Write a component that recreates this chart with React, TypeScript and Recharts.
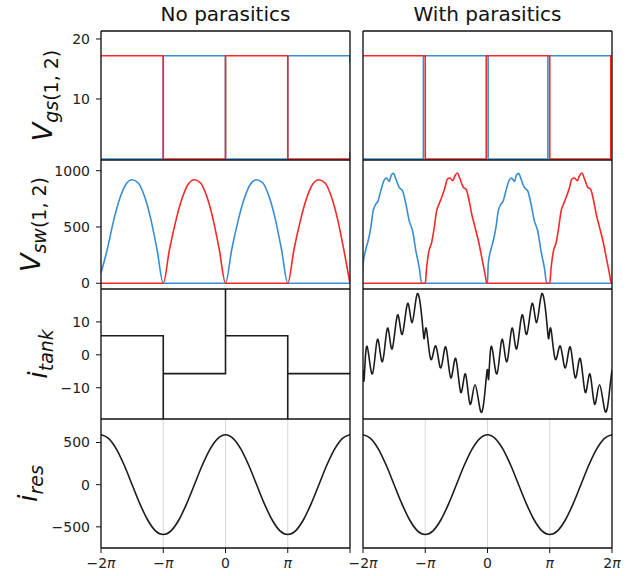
import React from "react";
import { LineChart, Line, XAxis, YAxis, CartesianGrid, ReferenceLine } from "recharts";

type Pt = [number, number];

// ---------- axes / text ----------
const PHASE_TICKS = [-2, -1, 0, 1, 2]; // in units of pi
const PHASE_LABELS = ["−2", "−", "0", "", "2"]; // prefix before the pi symbol
const PHASE_HAS_PI = [true, true, false, true, true];
const COLUMN_TITLES = ["No parasitics", "With parasitics"];

const VGS_TICKS = [10, 20];
const VSW_TICKS = [0, 500, 1000];
const ITANK_TICKS = [-10, 0, 10];
const IRES_TICKS = [-500, 0, 500];

const VGS_DOMAIN: [number, number] = [-0.17, 21.33];
const VSW_DOMAIN: [number, number] = [-51, 1095];
const ITANK_DOMAIN: [number, number] = [-19.5, 20];
const IRES_DOMAIN: [number, number] = [-751, 779];

// ---------- gate voltages ----------
const VGS_BLUE_IDEAL: Pt[] = [[-2, 0], [-1, 0], [-1, 17.2], [0, 17.2], [0, 0], [1, 0], [1, 17.2], [1.995, 17.2], [2, 16]];
const VGS_RED_IDEAL: Pt[] = [[-2, 17.2], [-1, 17.2], [-1, 0], [0, 0], [0, 17.2], [1, 17.2], [1, 0], [1.995, 0], [2, 1.2]];
const VGS_BLUE_PARA: Pt[] = [[-2, 0], [-1.03, 0], [-1.03, 17.2], [0.01, 17.2], [0.01, 0], [0.97, 0], [0.97, 17.2], [2, 17.2]];
const VGS_RED_PARA: Pt[] = [[-2, 17.2], [-1, 17.2], [-1, 0], [-0.02, 0], [-0.02, 17.2], [1, 17.2], [1, 0], [1.98, 0], [1.98, 17.2], [2, 17.2]];

// ---------- switch voltages (hump profiles: offset from hump start, value) ----------
const IDEAL_HUMP: Pt[] = [[0, 0], [0.1, 300], [0.2, 550], [0.3, 750], [0.4, 880], [0.5, 920], [0.6, 890], [0.7, 770], [0.8, 570], [0.9, 300], [1, 0]];
const BLUE_PARA_HUMP: Pt[] = [[0, 0], [0.011, 167], [0.054, 298], [0.092, 375], [0.135, 494], [0.173, 643], [0.216, 702], [0.253, 732], [0.296, 821], [0.35, 917], [0.388, 935], [0.43, 905], [0.468, 964], [0.5, 976], [0.538, 926], [0.592, 851], [0.646, 821], [0.7, 702], [0.753, 554], [0.807, 464], [0.86, 286], [0.914, 137], [0.952, 0]];
const RED_PARA_HUMP: Pt[] = [[0, 0], [0.022, 137], [0.059, 286], [0.102, 360], [0.14, 479], [0.183, 643], [0.22, 702], [0.263, 762], [0.317, 851], [0.355, 926], [0.398, 935], [0.441, 911], [0.478, 955], [0.516, 979], [0.559, 926], [0.613, 851], [0.656, 836], [0.694, 762], [0.747, 613], [0.801, 494], [0.855, 375], [0.909, 226], [0.962, 77], [0.989, 0]];

// ---------- tank current ----------
const ITANK_IDEAL: Pt[] = [[-2, 5.8], [-1, 5.8], [-1, -30], [-1, -5.7], [0, -5.7], [0, 30], [0, 5.8], [1, 5.8], [1, -30], [1, -5.7], [2, -5.7]];
const ITANK_PERIOD: Pt[] = [[0, -4.5], [0.02, -7.0], [0.065, 2.6], [0.151, -5.8], [0.232, 4.7], [0.312, -2.1], [0.393, 8.1], [0.468, 1.8], [0.554, 12.1], [0.63, 6.2], [0.716, 15.6], [0.79, 9.8], [0.871, 18.5], [0.95, 10.4], [0.985, 5.0], [1.02, 7.8], [1.09, -1.4], [1.17, 2.7], [1.25, -4.0], [1.33, 2.4], [1.41, -7.0], [1.49, -1.1], [1.57, -11.4], [1.645, -5.8], [1.72, -15.0], [1.8, -9.1], [1.89, -17.2], [1.96, -11.0]];
const ITANK_END: Pt = [2, -4.5];

// ---------- resonant current ----------
const IRES: Pt[] = [[-2, 592], [-1.875, 547], [-1.75, 419], [-1.625, 227], [-1.5, 0], [-1.375, -227], [-1.25, -419], [-1.125, -547], [-1, -590], [-0.875, -547], [-0.75, -419], [-0.625, -227], [-0.5, 0], [-0.375, 227], [-0.25, 419], [-0.125, 547], [0, 592], [0.125, 547], [0.25, 419], [0.375, 227], [0.5, 0], [0.625, -227], [0.75, -419], [0.875, -547], [1, -590], [1.125, -547], [1.25, -419], [1.375, -227], [1.5, 0], [1.625, 227], [1.75, 419], [1.875, 547], [2, 592]];

const place = (profile: Pt[], start: number): Pt[] => profile.map(([dx, v]) => [start + dx, v] as Pt);

const VSW_BLUE_IDEAL: Pt[] = [[-2, 90], ...place(IDEAL_HUMP, -2).slice(1), ...place(IDEAL_HUMP, 0), [2, 0]];
const VSW_RED_IDEAL: Pt[] = [[-2, 0], ...place(IDEAL_HUMP, -1), ...place(IDEAL_HUMP, 1)];
const VSW_BLUE_PARA: Pt[] = [...place(BLUE_PARA_HUMP, -2.01), ...place(BLUE_PARA_HUMP, 0), [2, 0]];
const VSW_RED_PARA: Pt[] = [[-2, 0], ...place(RED_PARA_HUMP, -1), ...place(RED_PARA_HUMP, 1), [2, 0]];
const ITANK_PARA: Pt[] = [...place(ITANK_PERIOD, -2), ...place(ITANK_PERIOD, 0), ITANK_END];

// ---------- styling ----------
const FONT = "DejaVu Sans";
const BLUE = "#3a8dd2";
const RED = "#f82828";
const BLACK = "#1c1c1c";
const FRAME = "#111";
const COL_X = [101, 363];
const ROW_Y = [31, 160, 289, 419];
const ROW_H = [129, 129, 130, 129];
const PLOT_W = 249;

type Curve = "linear" | "monotone" | "natural";
type Series = { points: Pt[]; color: string; curve: Curve };
type YLab = { main: string; sub: string; subUpright: string; x: number };

const Y_LABELS: YLab[] = [
  { main: "V", sub: "gs", subUpright: "(1, 2)", x: 52 },
  { main: "V", sub: "sw", subUpright: "(1, 2)", x: 40 },
  { main: "i", sub: "tank", subUpright: "", x: 47 },
  { main: "i", sub: "res", subUpright: "", x: 37 },
];

const ROWS: { domain: [number, number]; ticks: number[]; series: Series[][] }[] = [
  {
    domain: VGS_DOMAIN,
    ticks: VGS_TICKS,
    series: [
      [{ points: VGS_BLUE_IDEAL, color: BLUE, curve: "linear" }, { points: VGS_RED_IDEAL, color: RED, curve: "linear" }],
      [{ points: VGS_BLUE_PARA, color: BLUE, curve: "linear" }, { points: VGS_RED_PARA, color: RED, curve: "linear" }],
    ],
  },
  {
    domain: VSW_DOMAIN,
    ticks: VSW_TICKS,
    series: [
      [{ points: VSW_BLUE_IDEAL, color: BLUE, curve: "monotone" }, { points: VSW_RED_IDEAL, color: RED, curve: "monotone" }],
      [{ points: VSW_BLUE_PARA, color: BLUE, curve: "monotone" }, { points: VSW_RED_PARA, color: RED, curve: "monotone" }],
    ],
  },
  {
    domain: ITANK_DOMAIN,
    ticks: ITANK_TICKS,
    series: [
      [{ points: ITANK_IDEAL, color: BLACK, curve: "linear" }],
      [{ points: ITANK_PARA, color: BLACK, curve: "natural" }],
    ],
  },
  {
    domain: IRES_DOMAIN,
    ticks: IRES_TICKS,
    series: [
      [{ points: IRES, color: BLACK, curve: "monotone" }],
      [{ points: IRES, color: BLACK, curve: "monotone" }],
    ],
  },
];

function PhaseTick(props: any) {
  const { x, y, payload, col } = props;
  const idx = PHASE_TICKS.indexOf(payload.value);
  if (idx < 0 || (col === 0 && payload.value === 2)) return <g />;
  return (
    <text x={x} y={y} dy="0.71em" textAnchor="middle" fontFamily={FONT} fontSize={14} fill="#222">
      {PHASE_LABELS[idx]}
      {PHASE_HAS_PI[idx] ? <tspan fontStyle="italic">π</tspan> : null}
    </text>
  );
}

function Panel({ row, col }: { row: number; col: number }) {
  const cfg = ROWS[row];
  const axisW = col === 0 ? 100 : 30;
  const mTop = row === 0 ? 31 : 3;
  const isBottom = row === 3;
  const xAxisH = isBottom ? 28 : 0;
  const mBottom = isBottom ? 0 : 3;
  const mRight = col === 1 ? 20 : 4;
  const plotH = ROW_H[row];
  const w = axisW + PLOT_W + mRight;
  const h = mTop + plotH + xAxisH + mBottom;
  const lab = Y_LABELS[row];
  const labelY = mTop + plotH / 2;
  const lx = lab.x - (COL_X[0] - axisW);

  const axisLabel = () => (
    <g>
      {row === 0 ? (
        <text x={axisW + PLOT_W / 2} y={21} textAnchor="middle" fontFamily={FONT} fontSize={20} fill="#111">
          {COLUMN_TITLES[col]}
        </text>
      ) : null}
      {col === 0 ? (
        <text
          x={lx}
          y={labelY}
          transform={`rotate(-90 ${lx} ${labelY})`}
          textAnchor="middle"
          fontFamily={FONT}
          fontSize={27}
          fill="#111"
        >
          <tspan fontStyle="italic">{lab.main}</tspan>
          <tspan fontSize={19} dy={6}>
            <tspan fontStyle="italic">{lab.sub}</tspan>
            {lab.subUpright}
          </tspan>
        </text>
      ) : null}
    </g>
  );

  return (
    <div style={{ position: "absolute", left: COL_X[col] - axisW, top: ROW_Y[row] - mTop }}>
      <LineChart width={w} height={h} margin={{ top: mTop, right: mRight, bottom: mBottom, left: 0 }}>
        <CartesianGrid horizontal={false} stroke="#d2d2d2" strokeWidth={0.9} />
        <XAxis
          xAxisId={0}
          dataKey="x"
          type="number"
          domain={[-2, 2]}
          ticks={PHASE_TICKS}
          interval={0}
          allowDataOverflow
          height={xAxisH}
          tick={isBottom ? <PhaseTick col={col} /> : false}
          tickLine={isBottom ? { stroke: FRAME } : false}
          tickSize={5}
          tickMargin={5}
          axisLine={{ stroke: FRAME, strokeWidth: 1.3 }}
        />
        <YAxis
          yAxisId={0}
          type="number"
          domain={cfg.domain}
          ticks={cfg.ticks}
          interval={0}
          allowDataOverflow
          width={axisW}
          tick={col === 0 ? { fontFamily: FONT, fontSize: 14, fill: "#222" } : false}
          tickFormatter={(v: number) => (v < 0 ? "−" + Math.abs(v) : String(v))}
          tickLine={{ stroke: FRAME }}
          tickSize={5}
          tickMargin={6}
          axisLine={{ stroke: FRAME, strokeWidth: 1.3 }}
          label={row === 0 || col === 0 ? axisLabel : undefined}
        />
        {cfg.series[col].map((s, i) => (
          <Line
            key={i}
            xAxisId={0}
            yAxisId={0}
            data={s.points.map(([x, y]) => ({ x, y }))}
            dataKey="y"
            type={s.curve}
            stroke={s.color}
            strokeWidth={1.6}
            dot={false}
            activeDot={false}
            isAnimationActive={false}
          />
        ))}
        <ReferenceLine xAxisId={0} yAxisId={0} y={cfg.domain[1]} stroke={FRAME} strokeWidth={1.3} ifOverflow="visible" />
        <ReferenceLine xAxisId={0} yAxisId={0} x={2} stroke={FRAME} strokeWidth={1.3} ifOverflow="visible" />
      </LineChart>
    </div>
  );
}

export default function App() {
  const panels = [];
  for (let r = 0; r < 4; r++) for (let c = 0; c < 2; c++) panels.push(<Panel key={`${r}-${c}`} row={r} col={c} />);
  return (
    <div style={{ position: "absolute", left: 0, top: 0, width: 640, height: 576, background: "#fff", overflow: "hidden" }}>
      {panels}
    </div>
  );
}
